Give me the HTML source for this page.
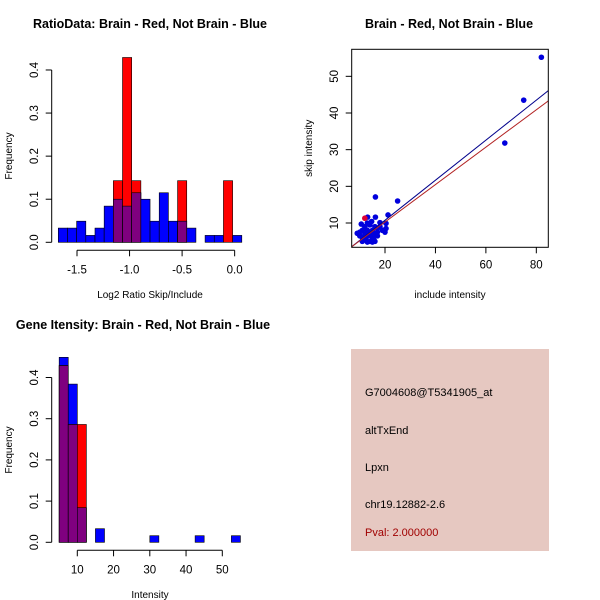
<!DOCTYPE html>
<html><head><meta charset="utf-8">
<style>
html,body{margin:0;padding:0;background:#fff;}
svg{display:block;font-family:"Liberation Sans",sans-serif;}
</style></head>
<body>
<svg id="chart" width="600" height="600" viewBox="0 0 600 600" xmlns="http://www.w3.org/2000/svg">
<g id="p1"></g>
<g id="p2"></g>
<g id="p3"></g>
<g id="p4">
  <rect x="351" y="349" width="198" height="202" fill="#e6c8c1"/>
  <text x="365" y="396" font-size="11">G7004608@T5341905_at</text>
  <text x="365" y="434" font-size="11">altTxEnd</text>
  <text x="365" y="471" font-size="11">Lpxn</text>
  <text x="365" y="508" font-size="11">chr19.12882-2.6</text>
  <text x="365" y="536" font-size="11" fill="#a00000">Pval: 2.000000</text>
</g>
</svg>
<script>
// ---- Panel 1 data ----
const ratioEdgeStart = -1.678, ratioBinWidth = 0.0873;
const ratioBlue = [0.033,0.033,0.049,0.016,0.033,0.084,0.1,0.084,0.115,0.1,0.049,0.115,0.049,0.049,0.033,0,0.016,0.016,0,0.016];
const ratioRed  = [0,0,0,0,0,0,0.143,0.429,0.143,0,0,0,0,0.143,0,0,0,0,0.143,0];
const ratioXTicks = [-1.5,-1.0,-0.5,0.0];
const ratioXLabels = ["-1.5","-1.0","-0.5","0.0"];
const ratioYTicks = [0,0.1,0.2,0.3,0.4];
const ratioYLabels = ["0.0","0.1","0.2","0.3","0.4"];
// ---- Panel 2 data ----
const blueX = [82,75,67.5,25,16.2,21.2,16.2,13.1,10.6,14.7,18,20.4,20.4,20,9,11,12,12,13,13,14,14,15,15,16,16,17,17,18,10,11,12,13,14,15,16,11,19,10,13,17,12.5,14.5,15.5];
const blueY = [55.2,43.5,31.8,16,17.1,12.2,11.6,11.6,9.7,10.4,10.1,9.9,8.5,7.5,7.2,6,5.5,7,6.5,8,5,7,6,8,5,7,6.5,8.5,9,6.5,8,9,4.8,9.5,4.8,9,5,8,7.5,10,7.5,6,6.5,5.5];
const redX = [12];
const redY = [11.3];
const blueFit = [-0.17, 0.546];
const redFit = [0.07, 0.51];
const scXTicks = [20,40,60,80];
const scYTicks = [10,20,30,40,50];
// ---- Panel 3 data ----
const intEdgeStart = 5, intBinWidth = 2.5;
const intBlue = [0.449,0.384,0.084,0,0.033,0,0,0,0,0,0.016,0,0,0,0,0.016,0,0,0,0.016];
const intRed  = [0.429,0.286,0.286,0,0,0,0,0,0,0,0,0,0,0,0,0,0,0,0,0];
const intXTicks = [10,20,30,40,50];
const intYTicks = [0,0.1,0.2,0.3,0.4];
const intYLabels = ["0.0","0.1","0.2","0.3","0.4"];

const NS="http://www.w3.org/2000/svg";
function mk(parent,tag,attrs,text){const e=document.createElementNS(NS,tag);for(const k in attrs)e.setAttribute(k,attrs[k]);if(text!==undefined)e.textContent=text;parent.appendChild(e);return e;}

function histogram(g, o){
  const sx=v=>o.x0px+(v-o.x0)*o.xs, sy=v=>o.y0px-v*o.ys;
  mk(g,'text',{x:o.titleX,y:o.titleY,'font-size':12.5,'font-weight':'bold','text-anchor':'middle'},o.title);
  for(let i=0;i<o.blue.length;i++){
    const a=o.edge+i*o.bw, b=a+o.bw, x=sx(a), w=sx(b)-sx(a);
    const bv=o.blue[i], rv=o.red[i];
    if(bv>0){const r=mk(g,'rect',{x:x,y:sy(bv),width:w,height:sy(0)-sy(bv),fill:'#0000ff',stroke:'#000','stroke-width':0.6});
      
      }
    if(rv>0){const r=mk(g,'rect',{x:x,y:sy(rv),width:w,height:sy(0)-sy(rv),fill:'#ff0000',stroke:'#000','stroke-width':0.6});
      
      }
    const m=Math.min(bv,rv);
    if(m>0){const r=mk(g,'rect',{x:x,y:sy(m),width:w,height:sy(0)-sy(m),fill:'#7f007f',stroke:'#000','stroke-width':0.6});
      
      }
  }
  const ya=mk(g,'line',{x1:51.7,x2:51.7,y1:sy(o.yt[0]),y2:sy(o.yt[o.yt.length-1]),stroke:'#000'});
  
  o.yt.forEach((t,i)=>{mk(g,'line',{x1:51.7,x2:45.7,y1:sy(t),y2:sy(t),stroke:'#000'});
    const tx=mk(g,'text',{x:0,y:0,'font-size':11.5,'text-anchor':'middle',transform:`translate(38,${sy(t)}) rotate(-90)`},o.yl[i]);
    });
  const xy=o.axisY;
  const xa=mk(g,'line',{x1:sx(o.xt[0]),x2:sx(o.xt[o.xt.length-1]),y1:xy,y2:xy,stroke:'#000'});
  
  o.xt.forEach((t,i)=>{mk(g,'line',{x1:sx(t),x2:sx(t),y1:xy,y2:xy+6,stroke:'#000'});
    const tx=mk(g,'text',{x:sx(t),y:xy+23,'font-size':11.5,'text-anchor':'middle'},o.xl[i]);
    });
  const yt=mk(g,'text',{x:0,y:0,'font-size':10,'text-anchor':'middle',transform:`translate(12,${o.ymid}) rotate(-90)`},'Frequency');
  
  const xt=mk(g,'text',{x:o.xmid,y:o.xtitleY,'font-size':10,'text-anchor':'middle'},o.xtitle);
  
}

histogram(document.getElementById('p1'),{x0:-1.5,x0px:77,xs:105.1,y0px:242.3,ys:430.8,edge:ratioEdgeStart,bw:ratioBinWidth,
 blue:ratioBlue,red:ratioRed,xt:ratioXTicks,xl:ratioXLabels,yt:ratioYTicks,yl:ratioYLabels,axisY:250.3,
 title:'RatioData: Brain - Red, Not Brain - Blue',titleX:150,titleY:28,ymid:156,xmid:150,xtitleY:298,xtitle:'Log2 Ratio Skip/Include'});

histogram(document.getElementById('p3'),{x0:10,x0px:77.3,xs:3.625,y0px:542.3,ys:412,edge:intEdgeStart,bw:intBinWidth,
 blue:intBlue,red:intRed,xt:intXTicks,xl:intXTicks.map(String),yt:intYTicks,yl:intYLabels,axisY:550.3,
 title:'Gene Itensity: Brain - Red, Not Brain - Blue',titleX:143,titleY:329,ymid:450,xmid:150,xtitleY:598,xtitle:'Intensity'});

(function(){
  const g=document.getElementById('p2');
  const L=351.7,R=548.3,T=49.3,B=247.3;
  const sx=v=>385+(v-20)*2.522, sy=v=>223-(v-10)*3.667;
  const xmin=20+(L-385)/2.522, xmax=20+(R-385)/2.522;
  mk(g,'text',{x:449,y:28,'font-size':12.5,'font-weight':'bold','text-anchor':'middle'},'Brain - Red, Not Brain - Blue');
  const cp=mk(g,'clipPath',{id:'scclip'});mk(cp,'rect',{x:L,y:T,width:R-L,height:B-T});
  const pg=mk(g,'g',{'clip-path':'url(#scclip)'});
  for(let i=0;i<blueX.length;i++){const c=mk(pg,'circle',{cx:sx(blueX[i]),cy:sy(blueY[i]),r:2.8,fill:'#0000dd'});
    
    }
  for(let i=0;i<redX.length;i++){const c=mk(pg,'circle',{cx:sx(redX[i]),cy:sy(redY[i]),r:2.8,fill:'#dd0033'});
    
    }
  const bl=mk(pg,'line',{x1:sx(xmin),y1:sy(blueFit[0]+blueFit[1]*xmin),x2:sx(xmax),y2:sy(blueFit[0]+blueFit[1]*xmax),stroke:'#00008b','stroke-width':1});
  
  const rl=mk(pg,'line',{x1:sx(xmin),y1:sy(redFit[0]+redFit[1]*xmin),x2:sx(xmax),y2:sy(redFit[0]+redFit[1]*xmax),stroke:'#b22222','stroke-width':1});
  
  const box=mk(g,'rect',{x:L,y:T,width:R-L,height:B-T,fill:'none',stroke:'#000'});
  
  scXTicks.forEach(t=>{mk(g,'line',{x1:sx(t),x2:sx(t),y1:B,y2:B+6,stroke:'#000'});
    const tx=mk(g,'text',{x:sx(t),y:B+21,'font-size':11.5,'text-anchor':'middle'},String(t));
    });
  scYTicks.forEach(t=>{mk(g,'line',{x1:L,x2:L-6,y1:sy(t),y2:sy(t),stroke:'#000'});
    const tx=mk(g,'text',{x:0,y:0,'font-size':11.5,'text-anchor':'middle',transform:`translate(338,${sy(t)}) rotate(-90)`},String(t));
    });
  const yt=mk(g,'text',{x:0,y:0,'font-size':10,'text-anchor':'middle',transform:`translate(312,${(T+B)/2}) rotate(-90)`},'skip intensity');
  
  const xt=mk(g,'text',{x:(L+R)/2,y:298,'font-size':10,'text-anchor':'middle'},'include intensity');
  
})();
</script>
</body></html>
